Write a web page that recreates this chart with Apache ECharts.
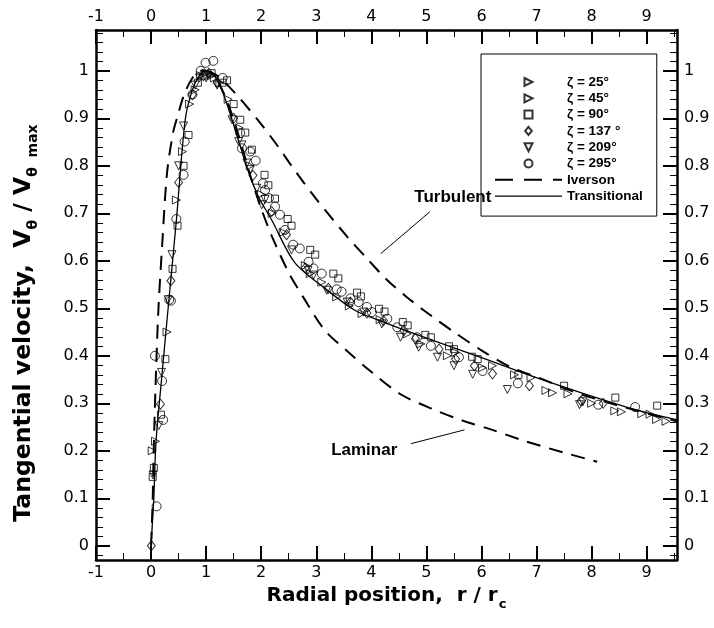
<!DOCTYPE html>
<html><head><meta charset="utf-8">
<script src="https://cdn.jsdelivr.net/npm/echarts@6/dist/echarts.min.js"></script>
<style>html,body{margin:0;padding:0;background:#fff}#c{width:714px;height:628px}</style>
</head><body><div id="c"></div>
<script>
// ---- axis ticks ----
const X_MAJOR = [-1,0,1,2,3,4,5,6,7,8,9];
const X_MINOR = [-0.5,0.5,1.5,2.5,3.5,4.5,5.5,6.5,7.5,8.5,9.5];
const Y_MAJOR = [0,0.1,0.2,0.3,0.4,0.5,0.6,0.7,0.8,0.9,1];
const Y_MINOR = [-0.02,0.02,0.04,0.06,0.08,0.12,0.14,0.16,0.18,0.22,0.24,0.26,0.28,0.32,0.34,0.36,0.38,0.42,0.44,0.46,0.48,0.52,0.54,0.56,0.58,0.62,0.64,0.66,0.68,0.72,0.74,0.76,0.78,0.82,0.84,0.86,0.88,0.92,0.94,0.96,0.98,1.02,1.04,1.06,1.08];

// ---- measured data (r/rc, Vθ/Vθmax) ----
const zeta25 = [[0.02,0.20],[0.29,0.45],[0.57,0.83],[0.8,0.96],[1.0,0.995],[1.15,0.985],[1.25,0.975],[1.6,0.88],[2.0,0.74],[2.4,0.66],[2.89,0.573],[3.37,0.524],[3.83,0.489],[4.65,0.446],[5.38,0.40],[6.02,0.375],[6.9,0.354],[7.17,0.327],[7.57,0.32],[8.42,0.284],[8.91,0.278],[9.18,0.266]];
const zeta45 = [[0.08,0.22],[0.46,0.728],[0.7,0.93],[0.9,0.99],[1.1,0.99],[1.4,0.94],[1.8,0.80],[2.2,0.70],[2.8,0.59],[3.1,0.555],[3.6,0.505],[4.16,0.476],[4.9,0.425],[5.53,0.407],[6.2,0.379],[6.6,0.36],[7.29,0.322],[8.0,0.30],[8.54,0.282],[9.06,0.277],[9.35,0.262]];
const zeta90 = [[0.03,0.145],[0.05,0.164],[0.18,0.276],[0.26,0.393],[0.39,0.583],[0.48,0.674],[0.59,0.80],[0.68,0.865],[0.85,0.975],[0.95,0.99],[1.1,0.995],[1.3,0.975],[1.38,0.98],[1.5,0.93],[1.62,0.897],[1.71,0.87],[1.83,0.834],[2.06,0.781],[2.13,0.759],[2.25,0.731],[2.48,0.688],[2.55,0.674],[2.89,0.623],[2.98,0.613],[3.31,0.573],[3.40,0.563],[3.74,0.533],[3.81,0.525],[4.14,0.499],[4.24,0.493],[4.57,0.471],[4.66,0.464],[4.98,0.444],[5.08,0.439],[5.41,0.42],[5.5,0.414],[5.83,0.398],[5.93,0.393],[6.67,0.36],[7.5,0.337],[8.43,0.312],[9.19,0.295]];
const zeta137 = [[0.005,0.0],[0.17,0.298],[0.36,0.558],[0.5,0.765],[0.75,0.95],[0.95,0.99],[1.05,0.995],[1.2,0.975],[1.5,0.9],[1.85,0.78],[2.19,0.704],[2.46,0.655],[2.8,0.585],[3.22,0.542],[3.62,0.513],[3.92,0.49],[4.22,0.474],[4.59,0.453],[4.8,0.436],[5.23,0.414],[5.53,0.393],[5.87,0.379],[6.2,0.362],[6.87,0.337],[7.81,0.305],[8.21,0.30]];
const zeta209 = [[0.035,0.149],[0.14,0.253],[0.19,0.365],[0.31,0.518],[0.38,0.613],[0.5,0.8],[0.59,0.884],[0.8,0.97],[0.88,0.985],[1.0,0.985],[1.2,0.97],[1.47,0.897],[1.59,0.851],[1.65,0.844],[1.74,0.806],[1.8,0.792],[1.92,0.753],[2.01,0.718],[2.07,0.729],[2.55,0.623],[2.85,0.58],[2.95,0.57],[3.19,0.538],[3.56,0.513],[3.86,0.492],[4.19,0.467],[4.53,0.439],[4.86,0.418],[5.2,0.397],[5.5,0.379],[5.84,0.361],[6.47,0.329],[7.78,0.297],[7.84,0.303]];
const zeta295 = [[0.07,0.40],[0.1,0.083],[0.2,0.347],[0.22,0.265],[0.33,0.518],[0.36,0.516],[0.46,0.688],[0.59,0.781],[0.61,0.851],[0.75,0.95],[0.9,1.0],[0.99,1.017],[1.13,1.021],[1.3,0.985],[1.62,0.869],[1.65,0.837],[1.8,0.83],[1.9,0.811],[2.03,0.763],[2.07,0.749],[2.14,0.732],[2.25,0.714],[2.34,0.697],[2.43,0.665],[2.58,0.634],[2.70,0.626],[2.86,0.598],[2.95,0.584],[3.1,0.573],[3.37,0.54],[3.46,0.535],[3.62,0.521],[3.77,0.513],[3.92,0.503],[4.01,0.492],[4.29,0.478],[4.47,0.46],[4.83,0.439],[5.08,0.421],[5.59,0.397],[6.02,0.368],[6.66,0.342],[8.12,0.297],[8.79,0.292]];

// Iverson: rising branch + laminar branch, then (gap) turbulent branch
const iversonLaminar = [[0,0],[0.03,0.10],[0.05,0.21],[0.08,0.33],[0.13,0.49],[0.2,0.63],[0.29,0.785],[0.4,0.87],[0.47,0.90],[0.6,0.95],[0.75,0.985],[0.9,1.0],[1.0,1.0],[1.2,0.98],[1.4,0.93],[1.6,0.86],[1.8,0.78],[2.0,0.71],[2.2,0.65],[2.5,0.575],[2.76,0.524],[3.16,0.453],[3.59,0.407],[3.98,0.368],[4.53,0.319],[5.13,0.287],[5.67,0.263],[6.17,0.245],[6.8,0.22],[7.5,0.196],[8.1,0.177]];
const iversonTurbulent = [[1.0,1.0],[1.2,0.99],[1.55,0.95],[2.01,0.886],[2.31,0.84],[2.55,0.80],[3.0,0.73],[3.56,0.651],[3.92,0.605],[4.28,0.56],[4.64,0.524],[4.95,0.496],[5.5,0.45],[6.02,0.41],[6.53,0.376],[7.08,0.352],[7.63,0.326],[8.2,0.305],[8.8,0.285],[9.55,0.262]];
const transitional = [[0,0],[0.03,0.06],[0.05,0.10],[0.09,0.22],[0.19,0.35],[0.29,0.476],[0.46,0.686],[0.62,0.897],[0.75,0.96],[0.88,0.99],[1.0,1.0],[1.12,0.995],[1.3,0.955],[1.47,0.897],[1.76,0.79],[1.95,0.735],[2.19,0.686],[2.61,0.596],[3.19,0.539],[3.7,0.496],[4.22,0.471],[5.13,0.432],[6.05,0.394],[6.97,0.355],[7.87,0.32],[8.78,0.287],[9.55,0.265]];

// annotations: [text, x, y] and leader lines [x1,y1,x2,y2]
const ANNOT_TEXT = [['Turbulent',5.48,0.733],['Laminar',3.87,0.202]];
const ANNOT_LINES = [[5.06,0.703,4.17,0.615],[4.72,0.215,5.69,0.244]];

const FONT = 'Liberation Sans, Arial, sans-serif';
const AXFONT = 'DejaVu Sans, sans-serif';
const XMIN=-1, XMAX=9.55, YMIN=-0.03, YMAX=1.086;

function xAx(pos, major) {
  return {
    type:'value', position:pos, min:XMIN, max:XMAX, splitLine:{show:false},
    axisLine:{show:major, onZero:false, lineStyle:{color:'#000', width:2.5}},
    axisTick:{show:true, inside:true, length: major?14:7, lineStyle:{color:'#000', width: major?2:1},
      customValues: major?X_MAJOR:X_MINOR},
    axisLabel:{show: major, customValues: X_MAJOR, color:'#000', fontSize:16, fontFamily:AXFONT, margin:5}
  };
}
function yAx(pos, major) {
  return {
    type:'value', position:pos, min:YMIN, max:YMAX, splitLine:{show:false},
    axisLine:{show:major, onZero:false, lineStyle:{color:'#000', width:2.5}},
    axisTick:{show:true, inside:true, length: major?14:7, lineStyle:{color:'#000', width: major?2:1},
      customValues: major?Y_MAJOR:Y_MINOR},
    axisLabel:{show: major, customValues: Y_MAJOR, color:'#000', fontSize:16, fontFamily:AXFONT, margin:7}
  };
}

const xAxes = [xAx('bottom',true), xAx('bottom',false), xAx('top',true), xAx('top',false)];
xAxes[0].name = '{a|Radial position,  r / r}{s|c}';
xAxes[0].nameLocation = 'middle';
xAxes[0].nameGap = 19;
xAxes[0].nameTextStyle = {rich:{
  a:{fontSize:20, fontWeight:'bold', fontFamily:AXFONT, color:'#000', lineHeight:30, verticalAlign:'middle'},
  s:{fontSize:13, fontWeight:'bold', fontFamily:AXFONT, color:'#000', lineHeight:30, verticalAlign:'bottom', padding:[0,0,0,1]}
}};
const yAxes = [yAx('left',true), yAx('left',false), yAx('right',true), yAx('right',false)];
yAxes[0].name = '{a|Tangential velocity,  V}{s|θ}{a| / V}{s|θ  max}';
yAxes[0].nameLocation = 'middle';
yAxes[0].nameRotate = 90;
yAxes[0].nameGap = 56;
yAxes[0].nameTextStyle = {padding:[0,56,0,0], rich:{
  a:{fontSize:23.5, fontWeight:'bold', fontFamily:AXFONT, color:'#000', lineHeight:32, verticalAlign:'middle'},
  s:{fontSize:14, fontWeight:'bold', fontFamily:AXFONT, color:'#000', lineHeight:32, verticalAlign:'bottom'}
}};

const hollow = {color:'rgba(0,0,0,0)', borderColor:'#000', borderWidth:1};
const TRI_R = 'path://M0,0L10,5L0,10Z';
const TRI_D = 'path://M0,0L10,0L5,10Z';
const SQUARE = 'path://M0,0L10,0L10,10L0,10Z';
const DIAMOND = 'path://M5,0L10,6L5,12L0,6Z';
function sc(name, data, symbol, size) {
  return {type:'scatter', name, data, symbol, symbolSize:size, itemStyle:hollow, z:3, xAxisIndex:0, yAxisIndex:0};
}

const iversonData = iversonLaminar.concat([[null,null]]).concat(iversonTurbulent);
const noSym = {color:'rgba(0,0,0,0)', borderColor:'rgba(0,0,0,0)', borderWidth:0};

const option = {
  animation:false,
  backgroundColor:'#fff',
  grid:{left:96, right:37, top:30, bottom:68, containLabel:false},
  xAxis: xAxes,
  yAxis: yAxes,
  legend:{
    orient:'vertical', left:481, top:54, itemWidth:67, itemHeight:8, itemGap:2.3,
    padding:[21,14,13,13], borderColor:'#000', borderWidth:1, backgroundColor:'#fff',
    borderRadius:0, selectedMode:false,
    textStyle:{fontSize:13.5, fontWeight:'bold', color:'#000', fontFamily:FONT, lineHeight:14},
    data:['ζ = 25°','ζ = 45°','ζ = 90°','ζ = 137 °','ζ = 209°','ζ = 295°',
      {name:'Iverson', itemStyle:noSym, lineStyle:{type:[18,11], width:2, color:'#000'}},
      {name:'Transitional', itemStyle:noSym, lineStyle:{type:'solid', width:1.2, color:'#000'}}]
  },
  series:[
    sc('ζ = 25°', zeta25, TRI_R, [8,8]),
    sc('ζ = 45°', zeta45, TRI_R, [8,8]),
    sc('ζ = 90°', zeta90, SQUARE, [7,7]),
    sc('ζ = 137 °', zeta137, DIAMOND, [8,10]),
    sc('ζ = 209°', zeta209, TRI_D, [8,8]),
    sc('ζ = 295°', zeta295, 'circle', 9),
    {type:'line', name:'Iverson', data:iversonData, symbol:'none', connectNulls:false, smooth:0.3,
     lineStyle:{color:'#000', width:2, type:[14,9]}, itemStyle:{color:'#000'}, z:2},
    {type:'line', name:'Transitional', data:transitional, symbol:'none', smooth:0.3,
     lineStyle:{color:'#000', width:1.3}, itemStyle:{color:'#000'}, z:2,
     markLine:{silent:true, symbol:['none','none'], label:{show:false},
       lineStyle:{color:'#000', width:1, type:'solid'},
       data: ANNOT_LINES.map(l=>[{coord:[l[0],l[1]]},{coord:[l[2],l[3]]}])},
     markPoint:{silent:true, symbol:'rect', symbolSize:1, itemStyle:{color:'rgba(0,0,0,0)'},
       label:{show:true, position:'inside', color:'#000', fontSize:17, fontWeight:'bold', fontFamily:FONT, formatter:p=>p.name},
       data: ANNOT_TEXT.map(t=>({name:t[0], coord:[t[1],t[2]]}))}
    }
  ]
};
const chart = echarts.init(document.getElementById('c'), null, {renderer:'canvas'});
chart.setOption(option);
</script></body></html>
